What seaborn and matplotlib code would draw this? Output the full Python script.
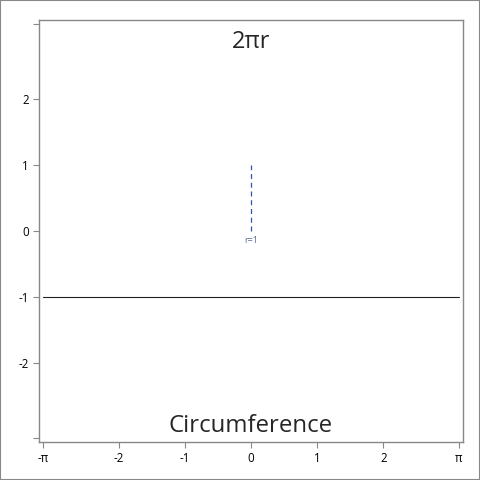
import numpy as np
import pandas as pd
import matplotlib.pyplot as plt
import seaborn as sns

# data
circ_x = [-np.pi, np.pi]
circ_y = [-1, -1]
radius_x = [0, 0]
radius_y = [0, 1]

tick_vals = [-np.pi, -2, -1, 0, 1, 2, np.pi]
x_labels = ["-π", "-2", "-1", "0", "1", "2", "π"]
y_labels = ["", "-2", "-1", "0", "1", "2", ""]

sns.set_style("white")
plt.rcParams['font.family'] = ['Open Sans', 'DejaVu Sans']

fig = plt.figure(figsize=(4.8, 4.8), dpi=100)
ax = fig.add_axes([0.082, 0.079, 0.882, 0.880])

circ = pd.DataFrame({"x": circ_x, "y": circ_y})
rad = pd.DataFrame({"x": radius_x, "y": radius_y})

sns.lineplot(x="x", y="y", data=circ, ax=ax, color="#222222", linewidth=0.8,
             estimator=None, sort=False)
sns.lineplot(x="x", y="y", data=rad, ax=ax, color="#3050b8", linewidth=0.9,
             estimator=None, sort=False, dashes=False, linestyle=(0, (4, 3)))

ax.text(0, -0.15, "r=1", color="#5a6a9a", fontsize=6.5, ha="center", va="center")
ax.text(0, 2.86, "2πr", fontsize=17, ha="center", va="center")
ax.text(0, -2.96, "Circumference", fontsize=17.3, ha="center", va="center")

ax.set_xlim(-3.2, 3.2)
ax.set_ylim(-3.2, 3.2)
ax.set_xticks(tick_vals)
ax.set_xticklabels(x_labels)
ax.set_yticks(tick_vals)
ax.set_yticklabels(y_labels)
ax.set_xlabel("")
ax.set_ylabel("")

for s in ax.spines.values():
    s.set_color("#888888")
    s.set_linewidth(1)
ax.tick_params(axis="both", which="both", direction="out", length=4.5, width=0.8,
               color="#888888", labelsize=8.3, labelcolor="black", pad=3,
               bottom=True, left=True)

fig.patches.append(plt.Rectangle((0, 0), 1, 1, transform=fig.transFigure,
                                 fill=False, edgecolor="#888888", linewidth=1.5))

plt.savefig("out.png", dpi=100)
